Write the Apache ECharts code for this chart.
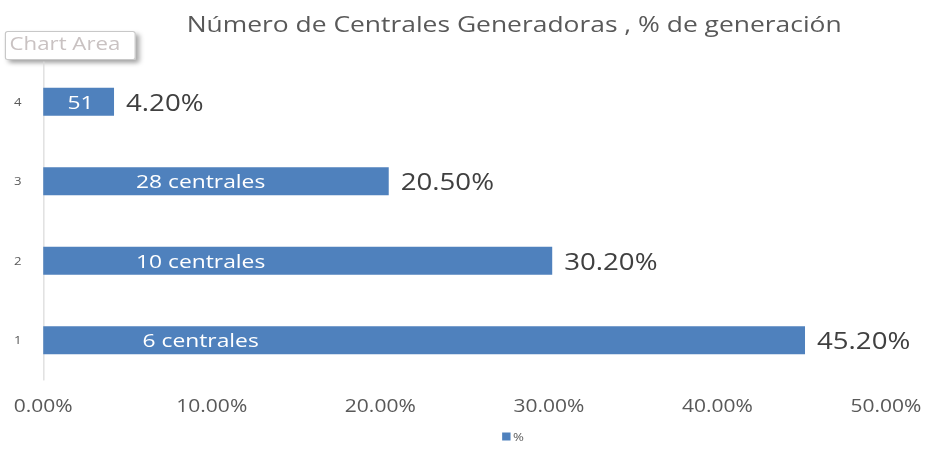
<!DOCTYPE html>
<html><head><meta charset="utf-8">
<script src="https://cdn.jsdelivr.net/npm/echarts@6/dist/echarts.min.js"></script>
<style>
html,body{margin:0;padding:0;background:#fff;overflow:hidden}
#wrap{width:925px;height:449px;overflow:hidden}
#c{width:770px;height:449px;transform:scaleX(1.2013);transform-origin:0 0}
</style>
</head><body><div id="wrap"><div id="c"></div></div>
<script>
const categories = ['1', '2', '3', '4'];
const values = [45.2, 30.2, 20.5, 4.2];
const innerLabels = ['6 centrales', '10 centrales', '28 centrales', '51'];
const xTicks = [0, 10, 20, 30, 40, 50];
const seriesName = '%';

const chart = echarts.init(document.getElementById('c'), null, { renderer: 'svg' });
const FONT = '"Open Sans", "Noto Sans", sans-serif';
const innerPos = [131, 131, 131, 31];
chart.setOption({
  animation: false,
  title: {
    text: 'Número de Centrales Generadoras , % de generación',
    left: 423, top: 7, textAlign: 'center',
    textStyle: { fontFamily: FONT, fontSize: 22, fontWeight: 'normal', color: '#595959' }
  },
  legend: {
    data: [seriesName], bottom: 2, left: 413, itemWidth: 7, itemHeight: 8, itemGap: 2,
    icon: 'rect',
    textStyle: { fontFamily: FONT, fontSize: 11, color: '#595959', padding: [0,0,0,-3] }
  },
  grid: { left: 36, right: 32, top: 62, bottom: 69, containLabel: false },
  xAxis: {
    type: 'value', min: xTicks[0], max: xTicks[xTicks.length - 1], interval: 10,
    axisLine: { show: false }, axisTick: { show: false }, splitLine: { show: false },
    axisLabel: { formatter: v => v.toFixed(2) + '%', fontFamily: FONT, fontSize: 17.5, color: '#595959', margin: 16 }
  },
  yAxis: {
    type: 'category', data: categories,
    axisLine: { show: true, lineStyle: { color: '#d9d9d9', width: 1 } },
    axisTick: { show: false },
    axisLabel: { fontFamily: FONT, fontSize: 11, color: '#595959', margin: 18 }
  },
  series: [
    {
      name: seriesName, type: 'bar', barWidth: 28,
      itemStyle: { color: '#4F81BD' },
      data: values.map((v, i) => ({
        value: v,
        label: {
          show: true, position: [innerPos[i], '50%'], align: 'center', verticalAlign: 'middle',
          formatter: innerLabels[i], color: '#fff', fontFamily: FONT, fontSize: 19
        }
      }))
    },
    {
      name: 'pct', type: 'bar', barWidth: 28, barGap: '-100%',
      itemStyle: { color: 'rgba(0,0,0,0)' }, silent: true,
      data: values,
      label: {
        show: true, position: 'right', distance: 10,
        formatter: p => p.value.toFixed(2) + '%',
        color: '#404040', fontFamily: FONT, fontSize: 23
      }
    }
  ],
  graphic: [
    {
      type: 'rect', left: 4, top: 31,
      shape: { width: 108, height: 28, r: 2 },
      style: { fill: '#ffffff', stroke: '#c8c8c8', lineWidth: 1, shadowBlur: 4, shadowOffsetX: 3, shadowOffsetY: 3, shadowColor: 'rgba(0,0,0,0.35)' }
    },
    {
      type: 'text', left: 8, top: 33,
      style: { text: 'Chart Area', fill: '#c9c2c2', font: '18.5px ' + FONT }
    }
  ]
});
</script></body></html>
